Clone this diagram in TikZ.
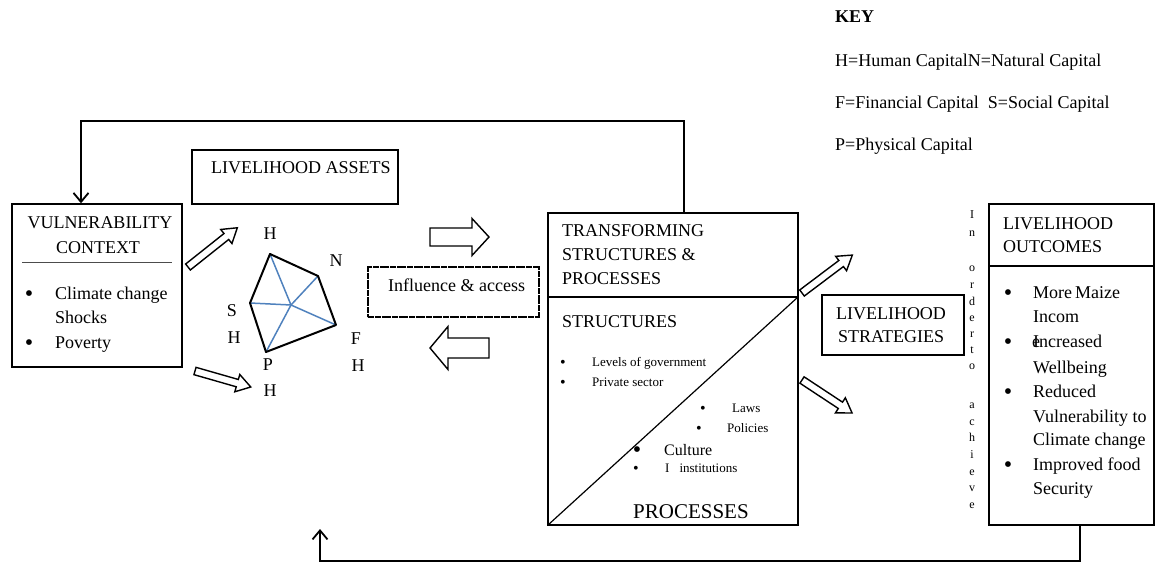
\documentclass[tikz,border=0pt]{standalone}
\usepackage{fontspec}
\setmainfont{Liberation Serif}
\usetikzlibrary{arrows.meta}
\definecolor{penblue}{RGB}{79,129,189}
\tikzset{
  box/.style={draw, line width=1.4pt, inner sep=0pt, minimum width=#1},
  box/.default=10pt,
  fb/.style={line width=1.8pt},
  tipv/.style={-{Straight Barb[length=9pt,width=15pt,line width=1.8pt]}},
  blk/.style={draw, line width=1.4pt, fill=white, line join=miter},
  txt/.style={inner sep=0pt, anchor=base west, font=\fontsize{18}{22}\selectfont},
  ctxt/.style={inner sep=0pt, anchor=base, font=\fontsize{18}{22}\selectfont},
  bul/.style={inner sep=0pt, anchor=base, font=\fontsize{24}{26}\selectfont},
  sbul/.style={inner sep=0pt, anchor=base, font=\fontsize{16}{18}\selectfont},
  stxt/.style={inner sep=0pt, anchor=base west, font=\fontsize{13}{15}\selectfont},
  mtxt/.style={inner sep=0pt, anchor=base west, font=\fontsize{16}{19}\selectfont},
  btxt/.style={inner sep=0pt, anchor=base west, font=\fontsize{21}{25}\selectfont},
  vtxt/.style={inner sep=0pt, anchor=base, font=\fontsize{12}{14}\selectfont},
  pen/.style={line width=2pt, line join=round},
  spoke/.style={line width=1.5pt, penblue},
}
% tail, angle, length, shaft half width, head half width, head length
\newcommand\blockarr[6]{%
  \begin{scope}[shift={(#1)}, rotate=#2]
    \draw[blk] (0,-#4) -- (#3-#6,-#4) -- (#3-#6,-#5) -- (#3,0) -- (#3-#6,#5) -- (#3-#6,#4) -- (0,#4) -- cycle;
  \end{scope}}
\begin{document}
\begin{tikzpicture}[x=1pt, y=-1pt]
\useasboundingbox (0,0) rectangle (1156,562);

% ---------- KEY ----------
\node[txt, font=\fontsize{18}{22}\selectfont\bfseries] (key) at (835,22) {KEY};
\node[txt] (k1) at (835,66) {H=Human CapitalN=Natural Capital};
\node[txt] (k2) at (835,108) {F=Financial Capital\ \ S=Social Capital};
\node[txt] (k3) at (835,150) {P=Physical Capital};

% ---------- boxes ----------
\node[box=170pt, minimum height=163pt] (vuln) at (97,285.5) {};
\node[box=206pt, minimum height=54pt] (assets) at (295,177) {};
\node[box=171pt, minimum height=50pt, dash pattern=on 3pt off 0.4pt, line width=1.3pt] (infl) at (453.5,292) {};
\node[box=250pt, minimum height=312pt] (trans) at (673,369) {};
\node[box=142pt, minimum height=60pt] (strat) at (893,325) {};
\node[box=165pt, minimum height=321pt] (outc) at (1071.5,364.5) {};

% ---------- vulnerability ----------
\node[ctxt] (v1) at (100,228) {VULNERABILITY};
\node[ctxt] (v2) at (98,253) {CONTEXT};
\draw[line width=0.8pt, black!70] (22,262) -- (172,262);
\node[bul] (vb1) at (29,301) {•};
\node[txt] (vt1) at (55,299) {Climate change};
\node[txt] (vt2) at (55,323) {Shocks};
\node[bul] (vb2) at (29,350) {•};
\node[txt] (vt3) at (55,348) {Poverty};

% ---------- assets ----------
\node[txt] (at) at (211,173) {LIVELIHOOD ASSETS};

\coordinate (pH) at (270,254);
\coordinate (pN) at (318,276);
\coordinate (pF) at (336,325);
\coordinate (pP) at (266,352);
\coordinate (pS) at (250,303);
\coordinate (pC) at (291,305);
\draw[spoke] (pC) -- (pH);
\draw[spoke] (pC) -- (pN);
\draw[spoke] (pC) -- (pF);
\draw[spoke] (pC) -- (pP);
\draw[spoke] (pC) -- (pS);
\draw[pen] (pH) -- (pN) -- (pF) -- (pP) -- (pS) -- cycle;

\node[ctxt] (lH) at (270,239) {H};
\node[ctxt] (lN) at (336,266) {N};
\node[ctxt] (lS) at (232,316) {S};
\node[ctxt] (lSH) at (234,343) {H};
\node[ctxt] (lF) at (356,344) {F};
\node[ctxt] (lFH) at (358,371) {H};
\node[ctxt] (lP) at (268,370) {P};
\node[ctxt] (lPH) at (270,396) {H};

% ---------- block arrows ----------
\blockarr{188,267}{38.5}{63}{3.8}{9}{14}
\blockarr{195,371}{-16}{58}{3.8}{9}{14}
\blockarr{802,293}{37}{63}{3.8}{9}{14}
\blockarr{802,380}{-33.4}{60}{3.8}{9}{14}
\blockarr{430,237}{0}{59}{9}{18.5}{17}
\blockarr{489,348}{180}{59}{10}{21.5}{18}

% ---------- influence ----------
\node[txt] (it) at (388,291) {Influence \& access};

% ---------- transforming ----------
\draw[line width=1.4pt] (548,297) -- (798,297);
\draw[line width=1.2pt] (548,525) -- (798,297);
\node[txt] (t1) at (562,236) {TRANSFORMING};
\node[txt] (t2) at (562,260) {STRUCTURES \&};
\node[txt] (t3) at (562,284) {PROCESSES};
\node[txt] (t4) at (562,327) {STRUCTURES};
\node[sbul] (b1) at (563,367) {•};
\node[stxt] (s1) at (592,366) {Levels of government};
\node[sbul] (b2) at (563,387) {•};
\node[stxt] (s2) at (592,386) {Private sector};
\node[sbul] (b3) at (703,413) {•};
\node[stxt] (s3) at (732,412) {Laws};
\node[sbul] (b4) at (699,433) {•};
\node[stxt] (s4) at (727,432) {Policies};
\node[bul] (b5) at (637,457) {•};
\node[mtxt] (s5) at (664,455) {Culture};
\node[sbul] (b6) at (636,473) {•};
\node[stxt] (s6) at (665,472) {I\hspace{10pt}institutions};
\node[btxt] (pr) at (633,518) {PROCESSES};

% ---------- strategies ----------
\node[ctxt] (st1) at (891,319) {LIVELIHOOD};
\node[ctxt] (st2) at (891,342) {STRATEGIES};

% ---------- vertical text ----------
\foreach \l/\yy [count=\i] in {I/218,n/236,o/271,r/288,d/305,e/321,r/337,t/353,o/369,a/408,c/425,h/441,i/458,e/475,v/491,e/508}
  \node[vtxt] (vl\i) at (972,\yy) {\l};

% ---------- outcomes ----------
\draw[line width=1.4pt] (989,266) -- (1154,266);
\node[txt] (o1) at (1003,229) {LIVELIHOOD};
\node[txt] (o2) at (1003,252) {OUTCOMES};
\node[bul] (ob1) at (1008,300) {•};
\node[txt] (ot1) at (1033,298) {More\hspace{3pt}Maize};
\node[txt] (ot2) at (1033,322) {Incom};
\node[bul] (ob2) at (1008,349) {•};
\node[txt] (ot3) at (1033,347) {Increased};
\node[txt] (ot3e) at (1032,347) {e};
\node[txt] (ot4) at (1033,373) {Wellbeing};
\node[bul] (ob3) at (1008,399) {•};
\node[txt] (ot5) at (1033,397) {Reduced};
\node[txt] (ot6) at (1033,422) {Vulnerability to};
\node[txt] (ot7) at (1033,445) {Climate change};
\node[bul] (ob4) at (1008,472) {•};
\node[txt] (ot8) at (1033,470) {Improved food};
\node[txt] (ot9) at (1033,494) {Security};

% ---------- feedback loops ----------
\coordinate (tA) at (trans.north -| 684,0);
\coordinate (vA) at (vuln.north -| 81,0);
\draw[fb, tipv] (tA) -- ++(0,-91) -| (vA);
\coordinate (oA) at (outc.south -| 1080,0);
\coordinate (bA) at (320,529);
\draw[fb, tipv] (oA) -- ++(0,35) -| (bA);
\end{tikzpicture}
\end{document}
